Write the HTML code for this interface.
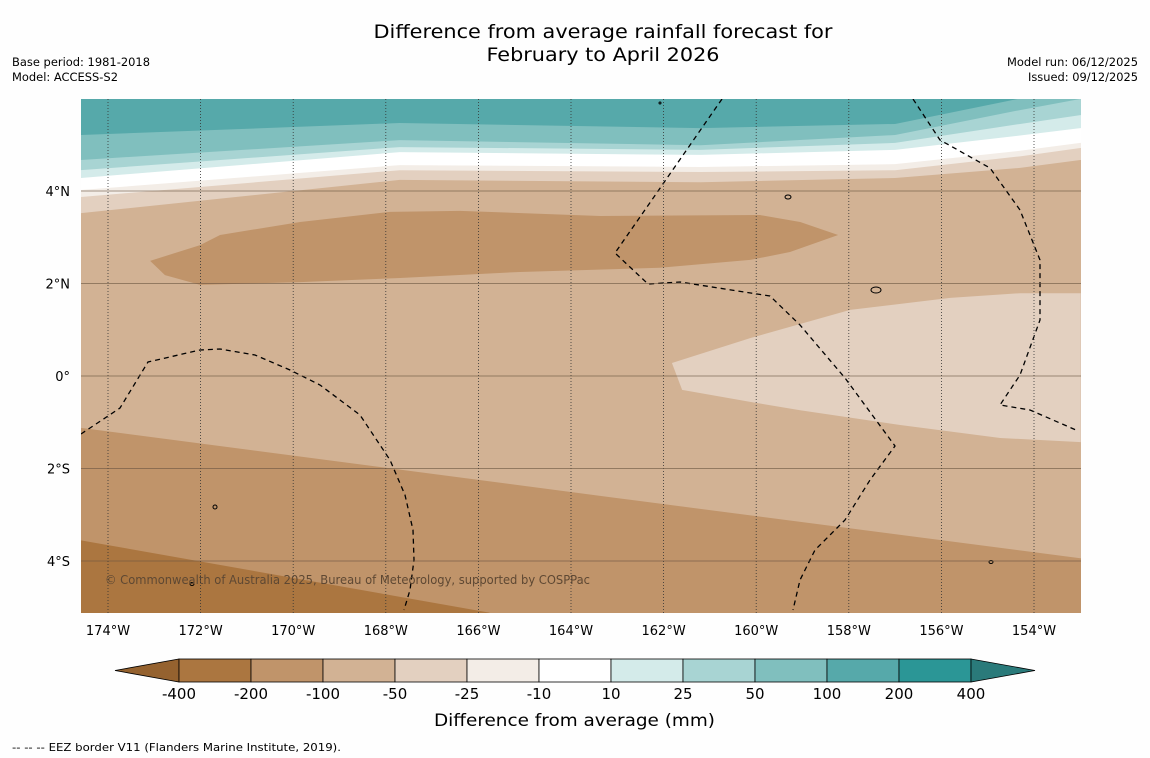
<!DOCTYPE html>
<html><head><meta charset="utf-8"><style>
body{margin:0;background:#fefefe;width:1150px;height:758px;overflow:hidden;font-family:"DejaVu Sans","Liberation Sans",sans-serif}
svg{position:absolute;left:0;top:0;font-family:"DejaVu Sans","Liberation Sans",sans-serif}
</style></head><body>
<svg id="chart" width="1150" height="758">
<text x="603" y="38" font-size="19" text-anchor="middle" textLength="459" lengthAdjust="spacingAndGlyphs">Difference from average rainfall forecast for</text>
<text x="603" y="61" font-size="19" text-anchor="middle" textLength="233" lengthAdjust="spacingAndGlyphs">February to April 2026</text>
<text x="12" y="66" font-size="11.5" textLength="138" lengthAdjust="spacingAndGlyphs">Base period: 1981-2018</text>
<text x="12" y="81" font-size="11.5" textLength="106" lengthAdjust="spacingAndGlyphs">Model: ACCESS-S2</text>
<text x="1138" y="66" font-size="11.5" text-anchor="end" textLength="131" lengthAdjust="spacingAndGlyphs">Model run: 06/12/2025</text>
<text x="1138" y="81" font-size="11.5" text-anchor="end" textLength="110" lengthAdjust="spacingAndGlyphs">Issued: 09/12/2025</text>
<defs><clipPath id="mc"><rect x="81" y="99" width="1000" height="514"/></clipPath></defs>
<g id="map" clip-path="url(#mc)"></g>
<g id="axes"></g>
<g id="cbar"></g>
<text x="434" y="726" font-size="17" textLength="281" lengthAdjust="spacingAndGlyphs">Difference from average (mm)</text>
<text x="12" y="751" font-size="11" textLength="329" lengthAdjust="spacingAndGlyphs">--  --  -- EEZ border V11 (Flanders Marine Institute, 2019).</text>
</svg>
<script>
// ---- data ----
const lonTicks=[-174,-172,-170,-168,-166,-164,-162,-160,-158,-156,-154];
const latTicks=[4,2,0,-2,-4];
const levels=[-400,-200,-100,-50,-25,-10,10,25,50,100,200,400];
const levelColors=["#ab7640","#c0946a","#d2b294","#e3d0c0","#f3ede7","#ffffff","#d4ebea","#a8d4d3","#80bfbe","#56a9aa","#2b9696"];
const bandLons=[-174.6,-167.7,-161.2,-157,-154.3,-153];
const bandM50=[3.52,4.24,4.19,4.28,4.5,4.67];
const bandM25=[3.87,4.45,4.41,4.45,4.75,4.93];
const bandM10=[4.02,4.56,4.52,4.58,4.87,5.04];
const bandP10=[4.13,4.67,4.61,4.67,5.0,5.15];
const bandP25=[4.28,4.84,4.78,4.89,5.2,5.36];
const bandP50=[4.45,4.95,4.89,5.04,5.45,5.64];
const bandP100=[4.67,5.10,4.99,5.21,5.75,5.99];
const bandP200=[5.21,5.47,5.36,5.45,6.0,6.3];
const southLons=[-174.6,-163,-153];
const south200=[-1.12,-2.64,-3.94];
const south400Lons=[-174.6,-165.75];
const south400=[-3.55,-5.12];
const blobLon=[-173.09,-172.01,-171.58,-169.85,-167.91,-166.40,-163.37,-159.92,-159.05,-158.23,-159.27,-160.13,-162.08,-165.10,-167.69,-169.85,-172.01,-172.77];
const blobLat=[2.49,2.83,3.05,3.33,3.55,3.57,3.46,3.48,3.33,3.05,2.68,2.51,2.34,2.25,2.12,2.03,1.97,2.18];
const eastLon=[-161.82,-160.13,-157.97,-155.81,-154.30,-152.99,-152.99,-154.73,-156.89,-159.05,-160.13,-161.60];
const eastLat=[0.28,0.82,1.43,1.69,1.79,1.79,-1.43,-1.34,-1.06,-0.74,-0.56,-0.30];
// ---- axes ----
const X=lon=>108+(lon+174)*46.3;
const Y=lat=>376-lat*46.25;
const NS="http://www.w3.org/2000/svg";
const map=document.getElementById('map'),axes=document.getElementById('axes'),cb=document.getElementById('cbar');
function mk(tag,at,parent){const e=document.createElementNS(NS,tag);for(const k in at)e.setAttribute(k,at[k]);parent.appendChild(e);return e;}
function poly(pts,fill,name){const e=mk('polygon',{points:pts.map(p=>p.join(',')).join(' '),fill:fill},map);

}
mk('rect',{x:81,y:99,width:1000,height:514,fill:levelColors[2]},map);
const bands=[[bandM50,3],[bandM25,4],[bandM10,5],[bandP10,5],[bandP25,6],[bandP50,7],[bandP100,8],[bandP200,9]];
bands.forEach(([b,ci],i)=>{
 const pts=bandLons.map((l,j)=>[X(l),Y(b[j])]);
 pts.push([X(-150),Y(b[b.length-1])],[X(-150),Y(8)],[X(-178),Y(8)],[X(-178),Y(b[0])]);
 poly(pts,levelColors[ci],'north-band-'+levels[ci]);
});
{const pts=southLons.map((l,j)=>[X(l),Y(south200[j])]);pts.push([X(-150),Y(south200[2])],[X(-150),Y(-7)],[X(-178),Y(-7)],[X(-178),Y(south200[0])]);poly(pts,levelColors[1],'south-band-200');}
{const pts=south400Lons.map((l,j)=>[X(l),Y(south400[j])]);pts.push([X(-178),Y(-7)],[X(-178),Y(south400[0])]);poly(pts,levelColors[0],'south-band-400');}
poly(blobLon.map((l,j)=>[X(l),Y(blobLat[j])]),levelColors[1],'north-dry-blob');
poly(eastLon.map((l,j)=>[X(l),Y(eastLat[j])]),levelColors[3],'east-moderate-region');
const eez=["M722,99 L615,253 L648,284 L680,282 L770,296 L800,325 L845,378 L895,446 L870,480 L845,520 L815,550 L800,580 L793,610",
"M81,434 L120,408 L148,362 L200,350 L220,349 L255,355 L290,370 L320,385 L360,415 L390,460 L405,495 L413,530 L414,560 L410,590 L404,610",
"M913,99 L940,140 L990,168 L1020,210 L1040,260 L1040,320 L1020,375 L1000,405 L1030,410 L1076,430"];
eez.forEach((d,i)=>{const e=mk('path',{d:d,fill:'none',stroke:'#000','stroke-width':1.3,'stroke-dasharray':'5,4'},map);

});
[[788,197,3,2],[876,290,5,3],[215,507,2,2],[192,584,2,1.5],[991,562,2,1.5],[660,103,1,1]].forEach((p,i)=>{const e=mk('ellipse',{cx:p[0],cy:p[1],rx:p[2],ry:p[3],fill:'none',stroke:'#000','stroke-width':1},map);

});
mk('text',{x:105,y:584,'font-size':12,fill:'#5e4833',textLength:485,lengthAdjust:'spacingAndGlyphs'},map).textContent='© Commonwealth of Australia 2025, Bureau of Meteorology, supported by COSPPac';
lonTicks.forEach(l=>{const x=X(l);
 const g=mk('line',{x1:x,x2:x,y1:99,y2:613,stroke:'#333','stroke-width':0.8,'stroke-dasharray':'1,2'},axes);
 
 
 const t=mk('text',{x:x,y:635,'font-size':13,'text-anchor':'middle'},axes);t.textContent=Math.abs(l)+'°W';
 
 });
latTicks.forEach(v=>{const y=Y(v);
 const g=mk('line',{x1:81,x2:1081,y1:y,y2:y,stroke:'#6a5440','stroke-width':0.7,opacity:0.8},axes);
 
 
 const t=mk('text',{x:70,y:y+5,'font-size':13,'text-anchor':'end'},axes);t.textContent=v===0?'0°':Math.abs(v)+'°'+(v>0?'N':'S');
 
 });
const cx0=179,cw=72,cy=659,ch=23;
mk('polygon',{points:`115,${cy+ch/2} ${cx0},${cy} ${cx0},${cy+ch}`,fill:'#95622f',stroke:'#000','stroke-width':0.8},cb);
levelColors.forEach((c,i)=>{const r=mk('rect',{x:cx0+i*cw,y:cy,width:cw,height:ch,fill:c,stroke:'#000','stroke-width':0.8},cb);
 
 });
const xe=cx0+levelColors.length*cw;
mk('polygon',{points:`${xe},${cy} ${xe+64},${cy+ch/2} ${xe},${cy+ch}`,fill:'#2a7a7a',stroke:'#000','stroke-width':0.8},cb);
levels.forEach((v,i)=>{const t=mk('text',{x:cx0+i*cw,y:699,'font-size':15,'text-anchor':'middle'},cb);t.textContent=v;
 
 });
</script>
</body></html>
